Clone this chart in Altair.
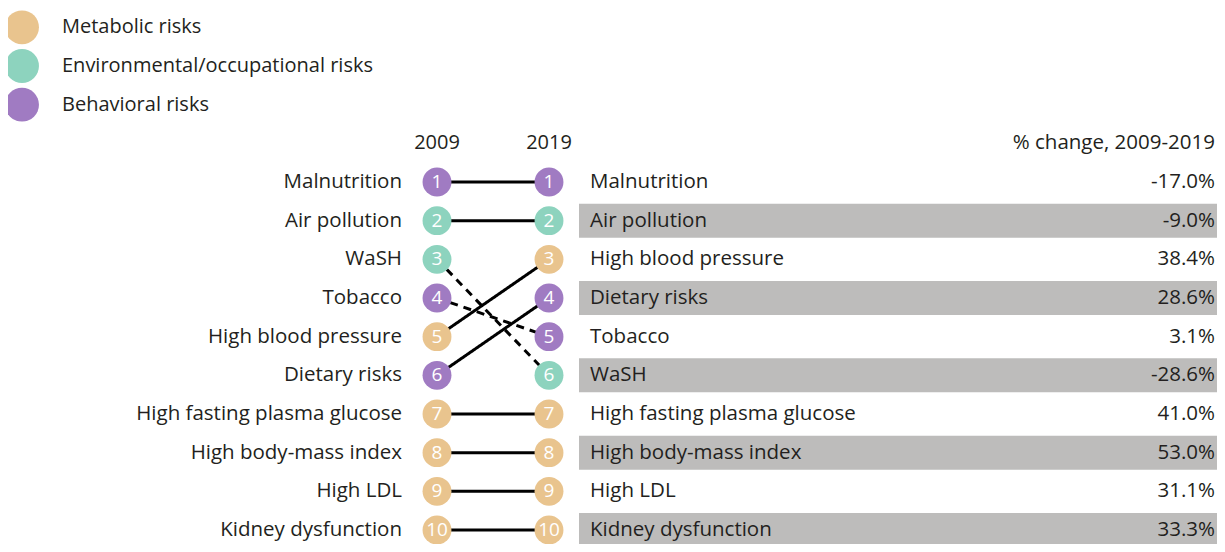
import altair as alt
import pandas as pd

# ---- data ----
risks = ["Malnutrition", "Air pollution", "WaSH", "Tobacco", "High blood pressure",
         "Dietary risks", "High fasting plasma glucose", "High body-mass index",
         "High LDL", "Kidney dysfunction"]
rank_2009 = [1, 2, 3, 4, 5, 6, 7, 8, 9, 10]
rank_2019 = [1, 2, 6, 5, 3, 4, 7, 8, 9, 10]
category = ["Behavioral risks", "Environmental/occupational risks",
            "Environmental/occupational risks", "Behavioral risks", "Metabolic risks",
            "Behavioral risks", "Metabolic risks", "Metabolic risks",
            "Metabolic risks", "Metabolic risks"]
pct_change = [-17.0, -9.0, -28.6, 3.1, 38.4, 28.6, 41.0, 53.0, 31.1, 33.3]

legend_labels = ["Metabolic risks", "Environmental/occupational risks", "Behavioral risks"]
legend_colors = ["#E9C48E", "#8DD3BE", "#A07BC2"]
years = [2009, 2019]
pct_header = "% change, 2009-2019"

FONT = "Open Sans"
TXT = "#231F20"
W, H = 1209, 536
FS = 20.5

base = pd.DataFrame({"risk": risks, "r09": rank_2009, "r19": rank_2019,
                     "category": category, "pct": pct_change})
base["dash"] = ["dashed" if b > a else "solid" for a, b in zip(rank_2009, rank_2019)]
base["pct_label"] = [f"{v:.1f}%" for v in pct_change]

long_rows = []
for _, r in base.iterrows():
    for y, rk in zip(years, [r.r09, r.r19]):
        long_rows.append({"risk": r.risk, "year": y, "rank": rk,
                          "category": r.category, "dash": r.dash, "num": str(rk)})
long_df = pd.DataFrame(long_rows)

legend_df = pd.DataFrame({"category": legend_labels,
                          "rank": list(range(-len(legend_labels), 0))})
header_df = pd.DataFrame({"year": years, "label": [str(y) for y in years], "rank": [0, 0]})
pct_header_df = pd.DataFrame({"label": [pct_header], "rank": [0]})

xs = alt.Scale(domain=[2009, 2019], range=[429, 541])
ys = alt.Scale(domain=[1, 10], range=[174, 522])
color = alt.Color("category:N", scale=alt.Scale(domain=legend_labels, range=legend_colors),
                  legend=None)

# alternating row bars
bars = alt.Chart(base).transform_filter("datum.r19 % 2 == 0").transform_calculate(
    top="datum.r19 - 0.44", bot="datum.r19 + 0.44"
).mark_rect(color="#BDBCBB").encode(
    x=alt.value(571), x2=alt.value(W),
    y=alt.Y("top:Q", scale=ys, axis=None), y2="bot:Q")

lines = alt.Chart(long_df).mark_line(color="black", strokeWidth=3).encode(
    x=alt.X("year:Q", scale=xs, axis=None),
    y=alt.Y("rank:Q", scale=ys, axis=None),
    detail="risk:N",
    strokeDash=alt.StrokeDash("dash:N", scale=alt.Scale(domain=["solid", "dashed"],
                                                      range=[[1, 0], [8, 6]]), legend=None))

circles = alt.Chart(long_df).mark_point(filled=True, opacity=1, size=835, shape="circle").encode(
    x=alt.X("year:Q", scale=xs, axis=None),
    y=alt.Y("rank:Q", scale=ys, axis=None),
    color=color)

nums = alt.Chart(long_df).mark_text(color="white", font=FONT, fontSize=19, align="center",
                                    baseline="middle").encode(
    x=alt.X("year:Q", scale=xs, axis=None),
    y=alt.Y("rank:Q", scale=ys, axis=None),
    text="num:N")

left_labels = alt.Chart(base).mark_text(color=TXT, font=FONT, fontSize=FS, align="right",
                                        baseline="middle").encode(
    x=alt.value(394), y=alt.Y("r09:Q", scale=ys, axis=None), text="risk:N")

right_labels = alt.Chart(base).mark_text(color=TXT, font=FONT, fontSize=FS, align="left",
                                         baseline="middle").encode(
    x=alt.value(582), y=alt.Y("r19:Q", scale=ys, axis=None), text="risk:N")

pct_text = alt.Chart(base).mark_text(color=TXT, font=FONT, fontSize=FS, align="right",
                                     baseline="middle").encode(
    x=alt.value(1207), y=alt.Y("r19:Q", scale=ys, axis=None), text="pct_label:N")

headers = alt.Chart(header_df).mark_text(color=TXT, font=FONT, fontSize=20, align="center",
                                         baseline="middle").encode(
    x=alt.X("year:Q", scale=xs, axis=None), y=alt.Y("rank:Q", scale=ys, axis=None),
    text="label:N")

pct_head = alt.Chart(pct_header_df).mark_text(color=TXT, font=FONT, fontSize=FS, align="right",
                                              baseline="middle").encode(
    x=alt.value(1207), y=alt.Y("rank:Q", scale=ys, axis=None), text="label:N")

leg_circles = alt.Chart(legend_df).mark_point(filled=True, opacity=1, size=1150,
                                              shape="circle").encode(
    x=alt.value(14), y=alt.Y("rank:Q", scale=ys, axis=None), color=color)

leg_text = alt.Chart(legend_df).mark_text(color=TXT, font=FONT, fontSize=20, align="left",
                                          baseline="middle").encode(
    x=alt.value(54), y=alt.Y("rank:Q", scale=ys, axis=None), text="category:N")

chart = alt.layer(bars, lines, circles, nums, left_labels, right_labels, pct_text,
                  headers, pct_head, leg_circles, leg_text).properties(
    width=W, height=H, padding=0, autosize=alt.AutoSizeParams(type="none"),
    background="white"
).configure_view(strokeWidth=0)

chart.save("out.html", embed_options={"renderer": "svg", "actions": False})
